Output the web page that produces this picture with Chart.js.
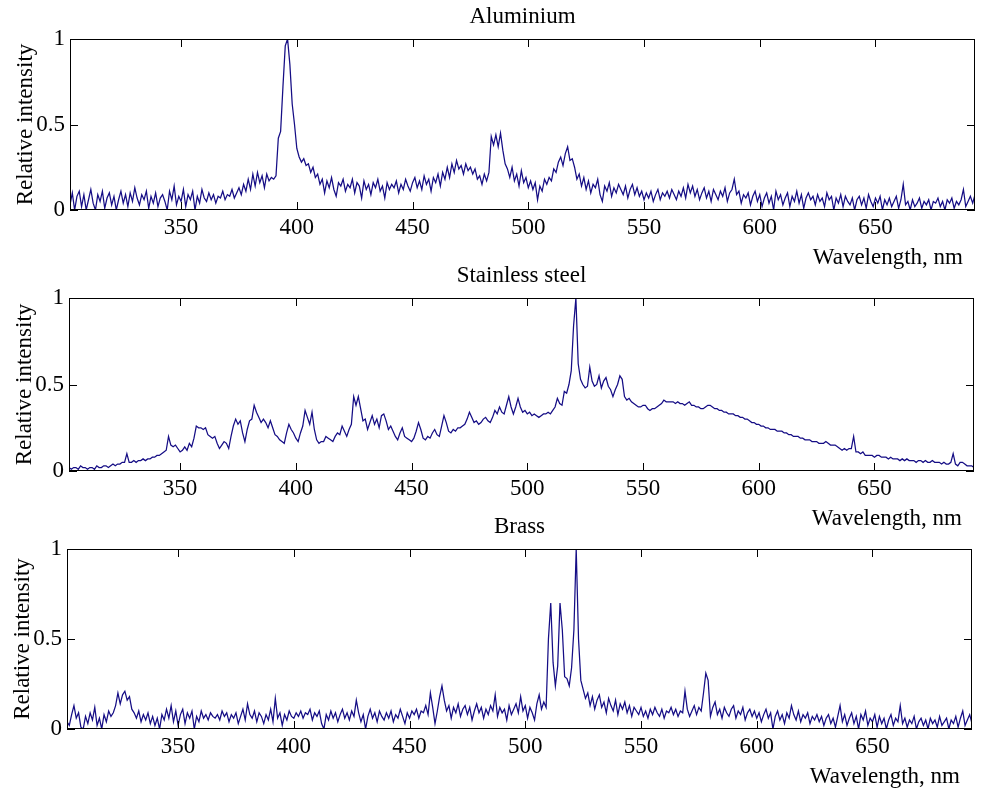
<!DOCTYPE html>
<html>
<head>
<meta charset="utf-8">
<title>Emission spectra</title>
<script src="https://cdn.jsdelivr.net/npm/chart.js@4.4.1/dist/chart.umd.min.js"></script>
<style>
  html, body { margin: 0; padding: 0; background: #fff; }
  #wrap { position: relative; width: 981px; height: 791px; }
  #wrap canvas { position: absolute; left: 0; top: 0; }
</style>
</head>
<body>
<div id="wrap">
  <canvas id="aluminiumChart" width="981" height="791"></canvas>
  <canvas id="steelChart" width="981" height="791"></canvas>
  <canvas id="brassChart" width="981" height="791"></canvas>
</div>
<script>
// wavelength grid, nm
const wavelengths = [
  302,303,304,305,306,307,308,309,310,311,
  312,313,314,315,316,317,318,319,320,321,
  322,323,324,325,326,327,328,329,330,331,
  332,333,334,335,336,337,338,339,340,341,
  342,343,344,345,346,347,348,349,350,351,
  352,353,354,355,356,357,358,359,360,361,
  362,363,364,365,366,367,368,369,370,371,
  372,373,374,375,376,377,378,379,380,381,
  382,383,384,385,386,387,388,389,390,391,
  392,393,394,395,396,397,398,399,400,401,
  402,403,404,405,406,407,408,409,410,411,
  412,413,414,415,416,417,418,419,420,421,
  422,423,424,425,426,427,428,429,430,431,
  432,433,434,435,436,437,438,439,440,441,
  442,443,444,445,446,447,448,449,450,451,
  452,453,454,455,456,457,458,459,460,461,
  462,463,464,465,466,467,468,469,470,471,
  472,473,474,475,476,477,478,479,480,481,
  482,483,484,485,486,487,488,489,490,491,
  492,493,494,495,496,497,498,499,500,501,
  502,503,504,505,506,507,508,509,510,511,
  512,513,514,515,516,517,518,519,520,521,
  522,523,524,525,526,527,528,529,530,531,
  532,533,534,535,536,537,538,539,540,541,
  542,543,544,545,546,547,548,549,550,551,
  552,553,554,555,556,557,558,559,560,561,
  562,563,564,565,566,567,568,569,570,571,
  572,573,574,575,576,577,578,579,580,581,
  582,583,584,585,586,587,588,589,590,591,
  592,593,594,595,596,597,598,599,600,601,
  602,603,604,605,606,607,608,609,610,611,
  612,613,614,615,616,617,618,619,620,621,
  622,623,624,625,626,627,628,629,630,631,
  632,633,634,635,636,637,638,639,640,641,
  642,643,644,645,646,647,648,649,650,651,
  652,653,654,655,656,657,658,659,660,661,
  662,663,664,665,666,667,668,669,670,671,
  672,673,674,675,676,677,678,679,680,681,
  682,683,684,685,686,687,688,689,690,691,
  692,693
];

// relative intensity
const aluminium = [
  0.03,0.10,0.00,0.08,0.11,0.02,0.09,0.00,0.06,0.12,
  0.04,0.00,0.09,0.05,0.11,0.01,0.07,0.10,0.03,0.08,
  0.00,0.06,0.11,0.04,0.09,0.02,0.10,0.05,0.13,0.07,
  0.03,0.09,0.06,0.11,0.01,0.08,0.04,0.10,0.02,0.07,
  0.09,0.05,0.00,0.11,0.06,0.14,0.03,0.08,0.05,0.12,
  0.02,0.09,0.06,0.11,0.00,0.08,0.04,0.12,0.07,0.05,
  0.10,0.06,0.09,0.04,0.08,0.07,0.11,0.06,0.09,0.08,
  0.12,0.07,0.10,0.13,0.09,0.15,0.11,0.18,0.12,0.21,
  0.14,0.22,0.16,0.20,0.13,0.21,0.17,0.19,0.18,0.20,
  0.42,0.46,0.72,0.96,1.00,0.85,0.62,0.50,0.36,0.31,
  0.28,0.30,0.26,0.27,0.22,0.25,0.19,0.21,0.15,0.18,
  0.10,0.17,0.13,0.19,0.12,0.08,0.16,0.14,0.18,0.11,
  0.15,0.13,0.18,0.10,0.16,0.14,0.07,0.17,0.12,0.15,
  0.09,0.16,0.13,0.18,0.11,0.14,0.07,0.16,0.12,0.15,
  0.13,0.17,0.10,0.15,0.12,0.18,0.14,0.11,0.16,0.19,
  0.13,0.17,0.12,0.20,0.15,0.18,0.11,0.19,0.16,0.21,
  0.14,0.22,0.18,0.25,0.19,0.27,0.22,0.29,0.24,0.26,
  0.21,0.27,0.23,0.25,0.21,0.24,0.18,0.20,0.15,0.21,
  0.17,0.22,0.43,0.38,0.44,0.37,0.45,0.35,0.27,0.24,
  0.19,0.25,0.17,0.21,0.14,0.23,0.16,0.19,0.13,0.17,
  0.12,0.16,0.06,0.14,0.11,0.18,0.15,0.19,0.17,0.24,
  0.22,0.28,0.31,0.26,0.33,0.37,0.29,0.30,0.25,0.18,
  0.21,0.14,0.19,0.12,0.17,0.10,0.15,0.13,0.18,0.09,
  0.05,0.14,0.11,0.16,0.08,0.13,0.10,0.15,0.12,0.09,
  0.14,0.07,0.12,0.15,0.09,0.13,0.08,0.11,0.06,0.10,
  0.07,0.11,0.05,0.09,0.12,0.06,0.10,0.08,0.11,0.07,
  0.12,0.09,0.06,0.11,0.08,0.13,0.07,0.15,0.10,0.14,
  0.08,0.12,0.06,0.10,0.13,0.07,0.11,0.05,0.12,0.09,
  0.06,0.11,0.08,0.13,0.05,0.10,0.12,0.18,0.09,0.11,
  0.04,0.09,0.07,0.10,0.03,0.08,0.11,0.05,0.09,0.02,
  0.07,0.10,0.04,0.08,0.00,0.11,0.06,0.09,0.03,0.07,
  0.10,0.02,0.08,0.05,0.11,0.04,0.09,0.01,0.07,0.10,
  0.06,0.08,0.03,0.09,0.05,0.07,0.02,0.10,0.06,0.08,
  0.00,0.07,0.04,0.09,0.02,0.08,0.05,0.03,0.07,0.00,
  0.06,0.08,0.03,0.07,0.01,0.09,0.05,0.02,0.07,0.04,
  0.08,0.00,0.06,0.03,0.07,0.02,0.05,0.08,0.01,0.06,
  0.15,0.03,0.05,0.00,0.06,0.02,0.04,0.07,0.01,0.05,
  0.03,0.06,0.00,0.05,0.04,0.07,0.02,0.05,0.00,0.06,
  0.04,0.07,0.01,0.05,0.03,0.06,0.12,0.02,0.05,0.08,
  0.04,0.09
];

const stainlessSteel = [
  0.02,0.01,0.02,0.02,0.01,0.03,0.02,0.02,0.01,0.02,
  0.02,0.01,0.03,0.02,0.02,0.03,0.03,0.02,0.03,0.04,
  0.03,0.04,0.04,0.05,0.05,0.10,0.05,0.05,0.06,0.05,
  0.06,0.06,0.07,0.06,0.07,0.07,0.08,0.08,0.09,0.09,
  0.10,0.11,0.12,0.20,0.15,0.14,0.15,0.13,0.11,0.12,
  0.14,0.12,0.16,0.14,0.19,0.26,0.25,0.25,0.24,0.25,
  0.21,0.20,0.19,0.20,0.16,0.13,0.15,0.17,0.16,0.13,
  0.20,0.26,0.30,0.27,0.29,0.22,0.17,0.24,0.29,0.30,
  0.38,0.34,0.31,0.28,0.30,0.28,0.25,0.29,0.25,0.21,
  0.20,0.18,0.17,0.16,0.22,0.27,0.24,0.22,0.19,0.17,
  0.22,0.26,0.35,0.31,0.27,0.34,0.24,0.18,0.16,0.17,
  0.17,0.20,0.19,0.18,0.17,0.20,0.22,0.21,0.26,0.23,
  0.20,0.24,0.27,0.43,0.38,0.43,0.36,0.29,0.30,0.24,
  0.28,0.32,0.27,0.30,0.25,0.32,0.33,0.29,0.24,0.26,
  0.23,0.20,0.18,0.22,0.25,0.20,0.19,0.18,0.17,0.19,
  0.23,0.28,0.24,0.19,0.18,0.20,0.19,0.22,0.24,0.21,
  0.20,0.26,0.32,0.28,0.23,0.22,0.24,0.23,0.25,0.25,
  0.26,0.27,0.30,0.34,0.31,0.28,0.29,0.27,0.28,0.30,
  0.31,0.29,0.28,0.31,0.35,0.33,0.37,0.34,0.33,0.38,
  0.43,0.37,0.33,0.37,0.42,0.37,0.34,0.35,0.33,0.34,
  0.32,0.33,0.32,0.31,0.32,0.33,0.33,0.34,0.33,0.35,
  0.37,0.42,0.39,0.38,0.46,0.45,0.50,0.58,0.84,1.00,
  0.62,0.53,0.50,0.48,0.49,0.60,0.52,0.49,0.50,0.55,
  0.48,0.52,0.54,0.49,0.47,0.43,0.47,0.50,0.55,0.53,
  0.43,0.41,0.42,0.40,0.39,0.38,0.37,0.37,0.38,0.38,
  0.36,0.35,0.36,0.36,0.37,0.38,0.39,0.41,0.40,0.40,
  0.40,0.40,0.39,0.40,0.39,0.39,0.38,0.39,0.40,0.38,
  0.38,0.37,0.37,0.36,0.36,0.37,0.38,0.38,0.37,0.36,
  0.36,0.35,0.35,0.34,0.34,0.33,0.33,0.33,0.32,0.32,
  0.31,0.31,0.30,0.30,0.29,0.28,0.28,0.27,0.27,0.26,
  0.26,0.25,0.25,0.24,0.24,0.24,0.23,0.23,0.23,0.22,
  0.22,0.21,0.21,0.20,0.20,0.20,0.19,0.19,0.18,0.18,
  0.18,0.17,0.17,0.17,0.16,0.16,0.16,0.17,0.16,0.15,
  0.15,0.15,0.14,0.13,0.12,0.13,0.12,0.13,0.13,0.20,
  0.11,0.11,0.10,0.11,0.09,0.09,0.09,0.09,0.08,0.09,
  0.09,0.08,0.08,0.08,0.07,0.08,0.07,0.07,0.07,0.06,
  0.07,0.06,0.07,0.06,0.06,0.06,0.05,0.06,0.06,0.05,
  0.06,0.05,0.05,0.06,0.05,0.05,0.05,0.04,0.05,0.04,
  0.04,0.05,0.10,0.04,0.03,0.05,0.05,0.04,0.03,0.03,
  0.03,0.02
];

const brass = [
  0.04,0.02,0.08,0.13,0.06,0.09,0.01,0.00,0.07,0.03,
  0.09,0.05,0.12,0.02,0.06,0.00,0.08,0.04,0.10,0.07,
  0.09,0.13,0.20,0.14,0.19,0.21,0.16,0.18,0.11,0.09,
  0.06,0.10,0.04,0.08,0.05,0.09,0.03,0.07,0.02,0.06,
  0.00,0.08,0.05,0.11,0.06,0.13,0.04,0.10,0.02,0.08,
  0.11,0.03,0.09,0.06,0.10,0.00,0.07,0.04,0.10,0.06,
  0.08,0.05,0.09,0.07,0.06,0.08,0.05,0.10,0.07,0.09,
  0.04,0.08,0.06,0.09,0.03,0.07,0.11,0.05,0.14,0.08,
  0.06,0.10,0.04,0.09,0.07,0.03,0.08,0.05,0.11,0.04,
  0.17,0.06,0.09,0.02,0.08,0.05,0.10,0.07,0.06,0.09,
  0.07,0.10,0.06,0.09,0.08,0.11,0.05,0.09,0.07,0.10,
  0.03,0.00,0.08,0.05,0.10,0.06,0.09,0.04,0.08,0.11,
  0.06,0.09,0.05,0.10,0.07,0.16,0.09,0.04,0.08,0.00,
  0.07,0.11,0.06,0.09,0.04,0.10,0.07,0.05,0.09,0.06,
  0.10,0.04,0.08,0.06,0.11,0.07,0.03,0.09,0.06,0.10,
  0.08,0.11,0.06,0.10,0.09,0.13,0.08,0.20,0.12,0.03,
  0.10,0.18,0.24,0.16,0.10,0.13,0.06,0.12,0.09,0.14,
  0.07,0.11,0.13,0.08,0.12,0.05,0.10,0.14,0.09,0.12,
  0.06,0.11,0.08,0.13,0.10,0.19,0.07,0.12,0.09,0.11,
  0.05,0.13,0.08,0.11,0.14,0.09,0.18,0.10,0.13,0.06,
  0.12,0.09,0.05,0.14,0.19,0.11,0.15,0.12,0.50,0.70,
  0.37,0.24,0.35,0.70,0.55,0.29,0.28,0.24,0.34,0.55,
  1.00,0.50,0.27,0.22,0.17,0.20,0.13,0.18,0.11,0.16,
  0.19,0.12,0.15,0.09,0.17,0.13,0.10,0.16,0.08,0.14,
  0.11,0.15,0.09,0.13,0.07,0.12,0.10,0.08,0.12,0.07,
  0.10,0.06,0.11,0.08,0.12,0.09,0.07,0.11,0.06,0.10,
  0.09,0.12,0.08,0.11,0.07,0.10,0.09,0.21,0.11,0.07,
  0.10,0.13,0.08,0.12,0.10,0.20,0.31,0.27,0.07,0.12,
  0.15,0.08,0.11,0.06,0.12,0.09,0.07,0.11,0.13,0.06,
  0.10,0.08,0.12,0.05,0.09,0.11,0.07,0.10,0.06,0.09,
  0.04,0.08,0.11,0.06,0.09,0.00,0.07,0.10,0.05,0.08,
  0.03,0.09,0.06,0.13,0.08,0.05,0.10,0.04,0.08,0.06,
  0.09,0.03,0.07,0.05,0.08,0.04,0.07,0.02,0.06,0.08,
  0.03,0.06,0.01,0.07,0.13,0.04,0.08,0.02,0.06,0.09,
  0.03,0.07,0.00,0.08,0.05,0.10,0.02,0.06,0.04,0.08,
  0.01,0.07,0.03,0.06,0.00,0.05,0.08,0.02,0.06,0.04,
  0.13,0.03,0.06,0.01,0.05,0.03,0.07,0.00,0.04,0.06,
  0.02,0.05,0.00,0.06,0.03,0.05,0.01,0.07,0.02,0.04,
  0.06,0.00,0.05,0.03,0.07,0.01,0.06,0.10,0.02,0.05,
  0.08,0.03
];

const xTitle = 'Wavelength, nm';
const yTitle = 'Relative intensity';

const lineColor = '#150d85';
const fontFamily = '"Liberation Serif", "Times New Roman", serif';
const fontSize = 23;

// plot boxes in page pixels
const panels = [
  { id: 'aluminiumChart', title: 'Aluminium', values: aluminium, top: 39, bottom: 210, left: 70, right: 975 },
  { id: 'steelChart', title: 'Stainless steel', values: stainlessSteel, top: 298, bottom: 471, left: 69, right: 974 },
  { id: 'brassChart', title: 'Brass', values: brass, top: 549, bottom: 729, left: 67, right: 972 }
];

const Y_AXIS_W = 40;
const X_AXIS_H = 30;
const TICK_LEN = 8;

// box, inward ticks and titles
const spectrumFrame = {
  id: 'spectrumFrame',
  afterDraw(chart, args, opts) {
    const { ctx, chartArea: a } = chart;
    const xs = chart.scales.x;
    const ys = chart.scales.y;
    ctx.save();
    ctx.strokeStyle = '#000';
    ctx.lineWidth = 1;
    ctx.strokeRect(a.left + 0.5, a.top + 0.5, a.right - a.left - 1, a.bottom - a.top - 1);

    ctx.beginPath();
    xs.ticks.forEach(t => {
      const px = Math.round(xs.getPixelForValue(t.value)) + 0.5;
      ctx.moveTo(px, a.top);
      ctx.lineTo(px, a.top + TICK_LEN);
      ctx.moveTo(px, a.bottom);
      ctx.lineTo(px, a.bottom - TICK_LEN);
    });
    ys.ticks.forEach(t => {
      const py = Math.round(ys.getPixelForValue(t.value)) + 0.5;
      ctx.moveTo(a.left, py);
      ctx.lineTo(a.left + TICK_LEN, py);
      ctx.moveTo(a.right, py);
      ctx.lineTo(a.right - TICK_LEN, py);
    });
    ctx.stroke();

    ctx.fillStyle = '#000';
    ctx.font = fontSize + 'px ' + fontFamily;
    ctx.textBaseline = 'alphabetic';
    ctx.textAlign = 'center';
    ctx.fillText(opts.title, (a.left + a.right) / 2, a.top - 16);
    ctx.textAlign = 'right';
    ctx.fillText(xTitle, a.right - 12, a.bottom + 54);

    ctx.translate(a.left - 44, (a.top + a.bottom) / 2);
    ctx.rotate(-Math.PI / 2);
    ctx.textAlign = 'center';
    ctx.textBaseline = 'middle';
    ctx.fillText(yTitle, 0, 0);
    ctx.restore();
  }
};

panels.forEach(p => {
  const points = wavelengths.map((w, i) => ({ x: w, y: p.values[i] }));

  new Chart(document.getElementById(p.id), {
    type: 'line',
    data: {
      datasets: [{
        data: points,
        borderColor: lineColor,
        borderWidth: 1.25,
        pointRadius: 0,
        tension: 0,
        fill: false
      }]
    },
    options: {
      responsive: false,
      animation: false,
      events: [],
      layout: {
        padding: {
          top: p.top,
          left: p.left - Y_AXIS_W,
          right: 981 - p.right,
          bottom: 791 - p.bottom - X_AXIS_H
        }
      },
      plugins: {
        legend: { display: false },
        tooltip: { enabled: false },
        spectrumFrame: { title: p.title }
      },
      scales: {
        x: {
          type: 'linear',
          min: 302,
          max: 693,
          afterFit: s => { s.height = X_AXIS_H },
          grid: { display: false, drawTicks: false },
          border: { display: false },
          ticks: {
            stepSize: 50,
            includeBounds: false,
            maxRotation: 0,
            padding: 4,
            color: '#000',
            font: { family: fontFamily, size: fontSize }
          }
        },
        y: {
          min: 0,
          max: 1,
          afterFit: s => { s.width = Y_AXIS_W },
          grid: { display: false, drawTicks: false },
          border: { display: false },
          ticks: {
            stepSize: 0.5,
            padding: 5,
            color: '#000',
            font: { family: fontFamily, size: fontSize },
            callback: v => String(v)
          }
        }
      }
    },
    plugins: [spectrumFrame]
  });
});
</script>
</body>
</html>
